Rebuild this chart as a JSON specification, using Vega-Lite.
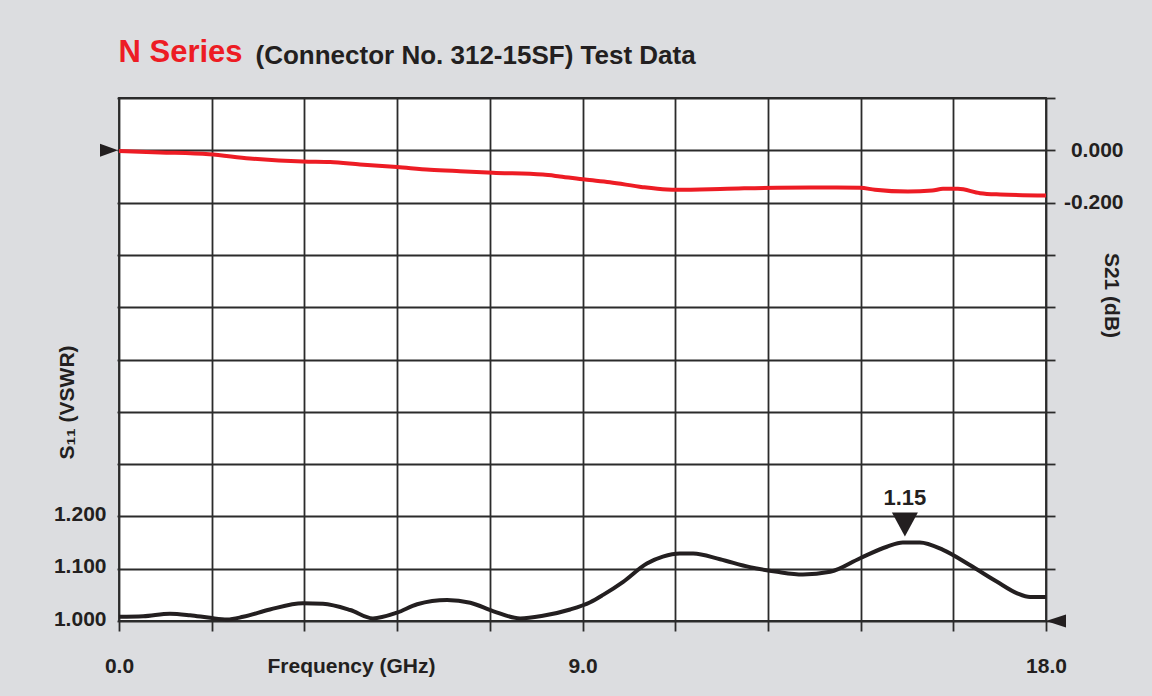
{
  "$schema": "https://vega.github.io/schema/vega-lite/v6.json",
  "autosize": {"type": "none"},
  "width": 927,
  "height": 523,
  "padding": {"left": 119, "top": 98, "right": 106, "bottom": 75},
  "background": "#dcdde0",
  "config": {
    "view": {"fill": "#ffffff", "stroke": "#2b2b2b", "strokeWidth": 1.8},
    "axis": {
      "labelFont": "Liberation Sans",
      "labelFontWeight": "bold",
      "labelFontSize": 21,
      "labelColor": "#231f20",
      "titleFont": "Liberation Sans",
      "titleFontWeight": "bold",
      "titleFontSize": 21,
      "titleColor": "#231f20",
      "domain": false,
      "tickColor": "#2b2b2b",
      "tickWidth": 1.8,
      "gridColor": "#2b2b2b",
      "gridWidth": 1.8,
      "gridOpacity": 1,
      "labelOverlap": false,
      "labelFlush": false
    }
  },
  "datasets": {
    "s11": [
      {"freq": 0, "vswr": 1.008}, {"freq": 0.47, "vswr": 1.009}, {"freq": 0.99, "vswr": 1.014},
      {"freq": 1.38, "vswr": 1.011}, {"freq": 1.77, "vswr": 1.006}, {"freq": 2.10, "vswr": 1.003},
      {"freq": 2.41, "vswr": 1.008}, {"freq": 2.93, "vswr": 1.022}, {"freq": 3.57, "vswr": 1.034},
      {"freq": 3.96, "vswr": 1.033}, {"freq": 4.49, "vswr": 1.021}, {"freq": 4.93, "vswr": 1.005},
      {"freq": 5.40, "vswr": 1.016}, {"freq": 5.79, "vswr": 1.032}, {"freq": 6.37, "vswr": 1.040},
      {"freq": 6.82, "vswr": 1.035}, {"freq": 7.26, "vswr": 1.019}, {"freq": 7.79, "vswr": 1.005},
      {"freq": 8.23, "vswr": 1.010}, {"freq": 8.76, "vswr": 1.022}, {"freq": 9.15, "vswr": 1.036},
      {"freq": 9.40, "vswr": 1.050}, {"freq": 9.79, "vswr": 1.075}, {"freq": 10.25, "vswr": 1.110},
      {"freq": 10.56, "vswr": 1.123}, {"freq": 10.89, "vswr": 1.129}, {"freq": 11.15, "vswr": 1.129},
      {"freq": 11.67, "vswr": 1.118}, {"freq": 12.25, "vswr": 1.103}, {"freq": 12.78, "vswr": 1.094},
      {"freq": 13.28, "vswr": 1.089}, {"freq": 13.81, "vswr": 1.094}, {"freq": 14.39, "vswr": 1.120},
      {"freq": 14.91, "vswr": 1.142}, {"freq": 15.22, "vswr": 1.150}, {"freq": 15.55, "vswr": 1.150},
      {"freq": 16.00, "vswr": 1.136}, {"freq": 16.52, "vswr": 1.107}, {"freq": 17.05, "vswr": 1.075},
      {"freq": 17.44, "vswr": 1.053}, {"freq": 17.69, "vswr": 1.046}, {"freq": 18.0, "vswr": 1.046}
    ],
    "s21": [
      {"freq": 0, "db": -0.003}, {"freq": 0.80, "db": -0.008}, {"freq": 1.75, "db": -0.015},
      {"freq": 2.54, "db": -0.031}, {"freq": 3.57, "db": -0.043}, {"freq": 4.10, "db": -0.045},
      {"freq": 4.68, "db": -0.054}, {"freq": 5.40, "db": -0.064}, {"freq": 6.04, "db": -0.074},
      {"freq": 6.62, "db": -0.080}, {"freq": 7.26, "db": -0.086}, {"freq": 8.23, "db": -0.093},
      {"freq": 8.56, "db": -0.100}, {"freq": 9.05, "db": -0.112}, {"freq": 9.53, "db": -0.122},
      {"freq": 10.17, "db": -0.141}, {"freq": 10.64, "db": -0.150}, {"freq": 10.83, "db": -0.151},
      {"freq": 11.81, "db": -0.147}, {"freq": 12.78, "db": -0.143}, {"freq": 13.75, "db": -0.142},
      {"freq": 14.39, "db": -0.143}, {"freq": 14.68, "db": -0.151}, {"freq": 15.32, "db": -0.158},
      {"freq": 15.79, "db": -0.154}, {"freq": 16.00, "db": -0.147}, {"freq": 16.29, "db": -0.147},
      {"freq": 16.72, "db": -0.164}, {"freq": 17.11, "db": -0.169}, {"freq": 18.0, "db": -0.173}
    ],
    "s11ref": [{"marker": "S11 reference", "freq": 18, "vswr": 1.0}],
    "s11peak": [{"marker": "S11 peak", "freq": 15.26, "vswr": 1.15, "label": "1.15"}],
    "s21ref": [{"marker": "S21 reference", "freq": 0, "db": 0}]
  },
  "layer": [
    {
      "data": {"name": "s11"},
      "mark": {"type": "line", "color": "#231f20", "strokeWidth": 4, "interpolate": "monotone"},
      "encoding": {
        "x": {
          "field": "freq", "type": "quantitative",
          "scale": {"domain": [0, 18], "nice": false, "zero": false},
          "axis": {
            "orient": "bottom",
            "values": [0, 1.8, 3.6, 5.4, 7.2, 9, 10.8, 12.6, 14.4, 16.2, 18],
            "labelExpr": "(datum.value == 0 || datum.value == 9 || datum.value == 18) ? format(datum.value, '.1f') : ''",
            "grid": true,
            "tickSize": 10,
            "labelPadding": 24,
            "labelBaseline": "top",
            "title": "Frequency (GHz)",
            "titleX": 232,
            "titleY": 34,
            "titleAlign": "center",
            "titleBaseline": "top"
          }
        },
        "y": {
          "field": "vswr", "type": "quantitative",
          "scale": {"domain": [1, 2], "nice": false, "zero": false},
          "axis": {
            "orient": "left",
            "values": [1, 1.1, 1.2, 1.3, 1.4, 1.5, 1.6, 1.7, 1.8, 1.9, 2],
            "labelExpr": "datum.value <= 1.2001 ? format(datum.value, '.3f') : ''",
            "grid": true,
            "tickSize": 2,
            "labelPadding": 11,
            "labelOffset": -2,
            "labelBaseline": "middle",
            "title": "S₁₁ (VSWR)",
            "titleX": -52,
            "titleY": 304,
            "titleAngle": -90,
            "titleAlign": "center",
            "titleBaseline": "middle"
          }
        }
      }
    },
    {
      "data": {"name": "s11ref"},
      "mark": {"type": "point", "shape": "M0,0L2,-0.65L2,0.65Z", "size": 400, "filled": true, "color": "#231f20", "opacity": 1, "strokeWidth": 0},
      "encoding": {
        "x": {"field": "freq", "type": "quantitative", "scale": {"domain": [0, 18], "nice": false, "zero": false}, "axis": null},
        "y": {"field": "vswr", "type": "quantitative", "scale": {"domain": [1, 2], "nice": false, "zero": false}, "axis": null}
      }
    },
    {
      "data": {"name": "s11peak"},
      "mark": {"type": "point", "shape": "M-1,-2.31L1,-2.31L0,-0.46Z", "size": 676, "filled": true, "color": "#231f20", "opacity": 1, "strokeWidth": 0},
      "encoding": {
        "x": {"field": "freq", "type": "quantitative", "scale": {"domain": [0, 18], "nice": false, "zero": false}, "axis": null},
        "y": {"field": "vswr", "type": "quantitative", "scale": {"domain": [1, 2], "nice": false, "zero": false}, "axis": null}
      }
    },
    {
      "data": {"name": "s11peak"},
      "mark": {"type": "text", "font": "Liberation Sans", "fontWeight": "bold", "fontSize": 22, "color": "#231f20", "align": "center", "baseline": "middle", "dy": -45},
      "encoding": {
        "x": {"field": "freq", "type": "quantitative", "scale": {"domain": [0, 18], "nice": false, "zero": false}, "axis": null},
        "y": {"field": "vswr", "type": "quantitative", "scale": {"domain": [1, 2], "nice": false, "zero": false}, "axis": null},
        "text": {"field": "label"}
      }
    },
    {
      "data": {"name": "s21"},
      "mark": {"type": "line", "color": "#ed1c24", "strokeWidth": 4, "interpolate": "monotone"},
      "encoding": {
        "x": {
          "field": "freq", "type": "quantitative",
          "scale": {"domain": [0, 18], "nice": false, "zero": false},
          "axis": {
            "orient": "top", "ticks": false, "labels": false, "domain": false, "grid": false,
            "title": "N Series",
            "titleX": -1, "titleY": -37, "titleAlign": "left", "titleBaseline": "alphabetic", "titleAngle": 0,
            "titleColor": "#ed1c24", "titleFont": "Liberation Sans", "titleFontSize": 31, "titleFontWeight": "bold"
          }
        },
        "y": {
          "field": "db", "type": "quantitative",
          "scale": {"domain": [-1.8, 0.2], "nice": false, "zero": false},
          "axis": {
            "orient": "right",
            "values": [0.2, 0, -0.2, -0.4, -0.6, -0.8, -1, -1.2, -1.4, -1.6, -1.8],
            "labelExpr": "datum.value == 0 ? '0.000' : (abs(datum.value + 0.2) < 0.001 ? '-0.200' : '')",
            "grid": false,
            "tickSize": 9,
            "labelPadding": 68,
            "labelAlign": "right",
            "labelBaseline": "middle",
            "title": "S21 (dB)",
            "titleX": 64,
            "titleY": 197,
            "titleAngle": 90,
            "titleAlign": "center",
            "titleBaseline": "middle"
          }
        }
      }
    },
    {
      "data": {"name": "s21ref"},
      "mark": {"type": "point", "shape": "M-2.11,-0.72L-0.11,0L-2.11,0.72Z", "size": 324, "filled": true, "color": "#231f20", "opacity": 1, "strokeWidth": 0},
      "encoding": {
        "x": {
          "field": "freq", "type": "quantitative",
          "scale": {"domain": [0, 18], "nice": false, "zero": false},
          "axis": {
            "orient": "top", "ticks": false, "labels": false, "domain": false, "grid": false,
            "title": "(Connector No. 312-15SF) Test Data",
            "titleX": 136, "titleY": -35, "titleAlign": "left", "titleBaseline": "alphabetic", "titleAngle": 0,
            "titleColor": "#231f20", "titleFont": "Liberation Sans", "titleFontSize": 26, "titleFontWeight": "bold"
          }
        },
        "y": {
          "field": "db", "type": "quantitative",
          "scale": {"domain": [-1.8, 0.2], "nice": false, "zero": false},
          "axis": null
        }
      }
    }
  ],
  "resolve": {"scale": {"y": "independent"}, "axis": {"x": "independent", "y": "independent"}}
}
